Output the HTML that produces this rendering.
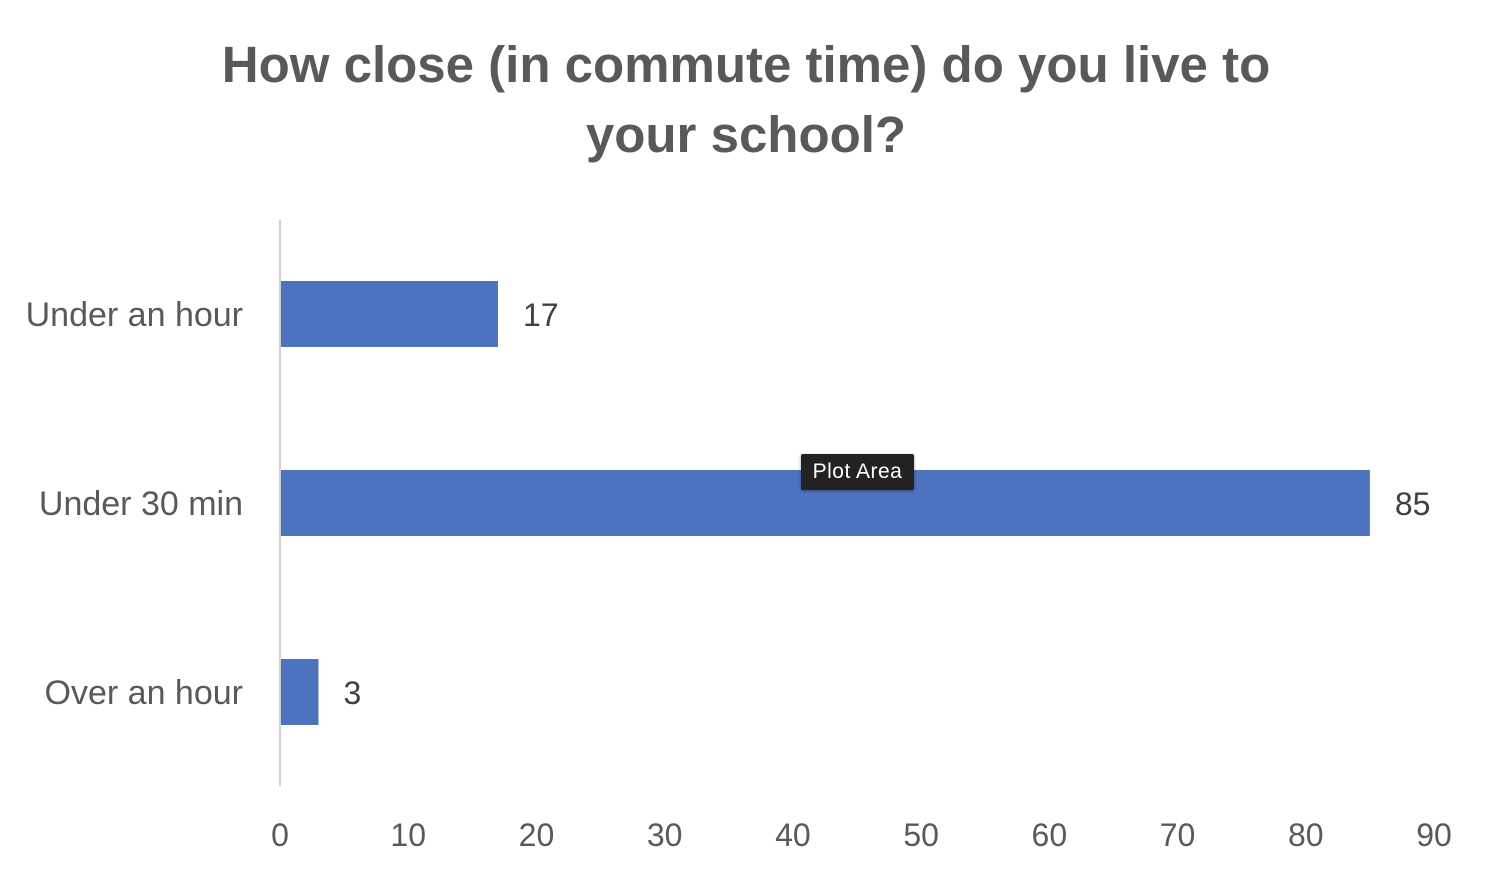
<!DOCTYPE html>
<html><head><meta charset="utf-8"><style>
html,body{margin:0;padding:0;background:#fff;}
body{width:1492px;height:874px;overflow:hidden;position:relative;font-family:"Liberation Sans","DejaVu Sans",sans-serif;}
#title{position:absolute;left:0;width:1492px;top:30px;text-align:center;font-weight:bold;font-size:51px;line-height:70px;color:#595959;}
#tip{position:absolute;left:801px;top:454px;width:113px;height:36px;background:#222;color:#fff;font-size:21px;line-height:36px;text-align:center;border-radius:2px;box-shadow:0 1px 3px rgba(0,0,0,.4);letter-spacing:0.5px;font-weight:500;}
</style></head><body>
<div id="title">How close (in commute time) do you live to<br>your school?</div>
<svg id="chart" width="1492" height="874" style="position:absolute;left:0;top:0"></svg>
<div id="tip">Plot Area</div>
<script>
const categories=["Under an hour","Under 30 min","Over an hour"];
const values=[17,85,3];
const ticks=[0,10,20,30,40,50,60,70,80,90];
const svg=document.getElementById('chart');
const NS='http://www.w3.org/2000/svg';
const x0=280,x1=1434,xmax=90;
const x=v=>x0+(x1-x0)*v/xmax;
const y=i=>314+189*i;
const barH=66;
function mk(t,a){const e=document.createElementNS(NS,t);for(const k in a)e.setAttribute(k,a[k]);svg.appendChild(e);return e;}
const ax=mk('line',{x1:x0,x2:x0,y1:220,y2:786,stroke:'#d0d0d0','stroke-width':2});


ticks.forEach(t=>{const e=mk('text',{x:x(t),y:846,'text-anchor':'middle','font-size':32,fill:'#595959'});e.textContent=t;

});
categories.forEach((c,i)=>{
const l=mk('text',{x:243,y:y(i)+12,'text-anchor':'end','font-size':34,fill:'#595959'});l.textContent=c;


const b=mk('rect',{x:x0+1,y:y(i)-barH/2,width:x(values[i])-x0-1,height:barH,fill:'#4e73be'});


const v=mk('text',{x:x(values[i])+25,y:y(i)+12,'font-size':32,fill:'#404040'});v.textContent=values[i];


});
</script>
</body></html>
